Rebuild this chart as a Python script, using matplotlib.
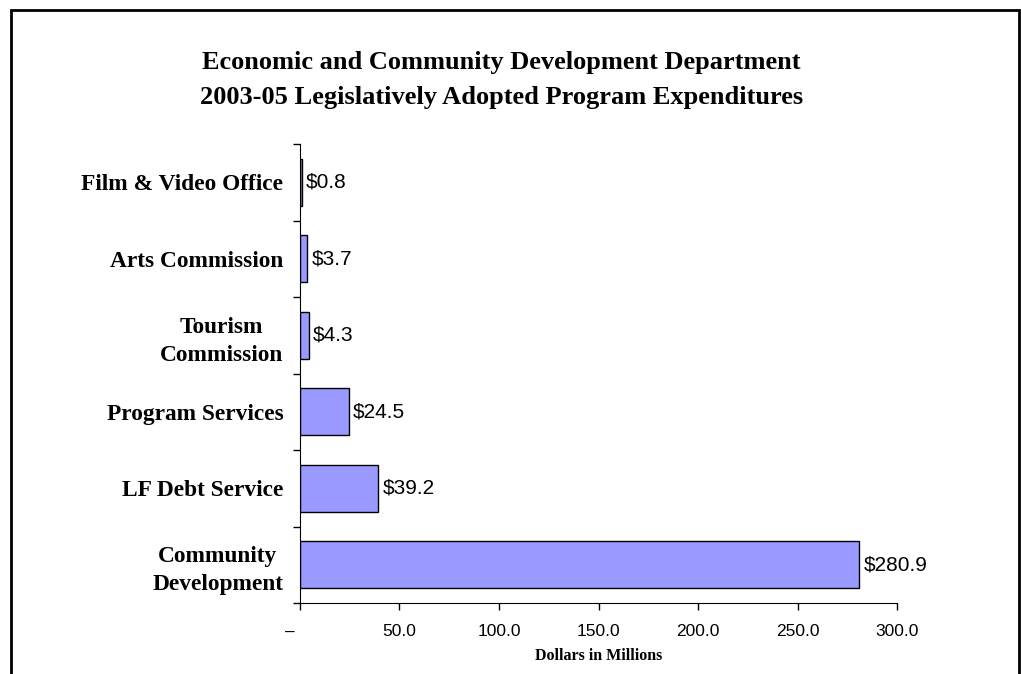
import numpy as np
import matplotlib.pyplot as plt
from matplotlib.patches import Rectangle

# program expenditures, millions of dollars (top to bottom)
programs = ['Film & Video Office', 'Arts Commission', 'Tourism\nCommission',
            'Program Services', 'LF Debt Service', 'Community\nDevelopment']
amounts = [0.8, 3.7, 4.3, 24.5, 39.2, 280.9]
xticks = [0, 50, 100, 150, 200, 250, 300]
xticklabels = ['–    ', '50.0', '100.0', '150.0', '200.0', '250.0', '300.0']

serif = 'Liberation Serif'
sans = 'Liberation Sans'

fig = plt.figure(figsize=(10.21, 6.74), dpi=100)
ax = fig.add_axes([0.2938, 0.1053, 0.5848, 0.681])

ypos = np.arange(len(programs))
ax.barh(ypos, amounts, height=0.62, color='#9999ff', edgecolor='black', linewidth=1.0)
ax.set_ylim(len(programs) - 0.5, -0.5)
ax.set_xlim(0, 300)

for y, v in zip(ypos, amounts):
    ax.text(v + 2.2, y, '$%.1f' % v, va='center', ha='left',
            fontsize=15, fontfamily=sans)

ax.set_yticks(ypos)
ax.set_yticklabels(programs, fontfamily=serif, fontweight='bold', fontsize=16.8,
                   multialignment='center', linespacing=1.45)
ax.set_yticks(np.arange(len(programs) + 1) - 0.5, minor=True)
ax.tick_params(axis='y', which='major', length=0, pad=12)
ax.tick_params(axis='y', which='minor', length=5, width=1, direction='out')

ax.set_xticks(xticks)
ax.set_xticklabels(xticklabels, fontfamily=sans, fontsize=12.5)
ax.tick_params(axis='x', length=5, width=1, direction='out', pad=10)

ax.spines['top'].set_visible(False)
ax.spines['right'].set_visible(False)

fig.text(0.586, 0.0267, 'Dollars in Millions', ha='center', va='center',
         fontfamily=serif, fontweight='bold', fontsize=11.5)

fig.text(0.491, 0.907, 'Economic and Community Development Department',
         ha='center', va='center', fontfamily=serif, fontweight='bold', fontsize=19)
fig.text(0.491, 0.855, '2003-05 Legislatively Adopted Program Expenditures',
         ha='center', va='center', fontfamily=serif, fontweight='bold', fontsize=19)

# outer frame around the whole chart
fig.patches.append(Rectangle((0.0103, -0.05), 0.9873, 1.035, transform=fig.transFigure,
                             fill=False, edgecolor='black', linewidth=2, clip_on=False))

fig.savefig('out.png', dpi=100)
